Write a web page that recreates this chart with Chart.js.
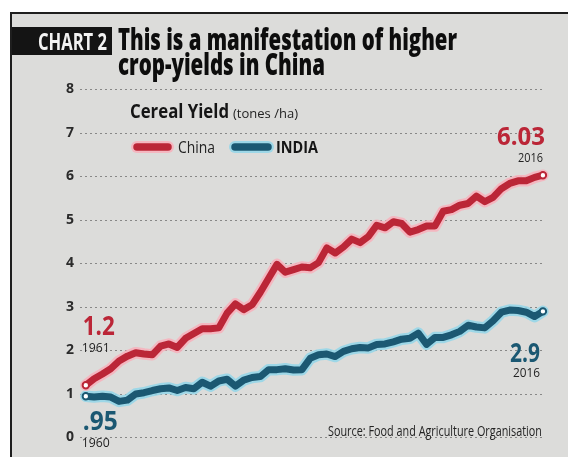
<!DOCTYPE html>
<html>
<head>
<meta charset="utf-8">
<title>Cereal Yield: China vs India</title>
<script src="https://cdn.jsdelivr.net/npm/chart.js@4/dist/chart.umd.min.js"></script>
<style>
  html, body { margin: 0; padding: 0; background: #ffffff; }
  #wrap { position: relative; width: 568px; height: 457px; overflow: hidden; }
  #frame {
    position: absolute; left: 10px; top: 12px; width: 600px; height: 500px;
    background: #dcdcda; border-left: 2px solid #1e1e1e; border-top: 2px solid #1e1e1e;
  }
  canvas { position: absolute; left: 0; top: 0; }
</style>
</head>
<body>
<div id="wrap">
  <div id="frame"></div>
  <canvas id="chart" width="568" height="457"></canvas>
</div>
<script>
// Cereal yield, tonnes per hectare
const years = [1961, 1962, 1963, 1964, 1965, 1966, 1967, 1968, 1969, 1970,
               1971, 1972, 1973, 1974, 1975, 1976, 1977, 1978, 1979, 1980,
               1981, 1982, 1983, 1984, 1985, 1986, 1987, 1988, 1989, 1990,
               1991, 1992, 1993, 1994, 1995, 1996, 1997, 1998, 1999, 2000,
               2001, 2002, 2003, 2004, 2005, 2006, 2007, 2008, 2009, 2010,
               2011, 2012, 2013, 2014, 2015, 2016];

const chinaYield = [1.20, 1.35, 1.46, 1.58, 1.76, 1.87, 1.95, 1.92, 1.90, 2.10,
                    2.15, 2.07, 2.28, 2.39, 2.50, 2.50, 2.52, 2.86, 3.07, 2.94,
                    3.05, 3.34, 3.66, 3.98, 3.80, 3.86, 3.92, 3.90, 4.02, 4.36,
                    4.24, 4.38, 4.56, 4.48, 4.62, 4.88, 4.82, 4.96, 4.92, 4.72,
                    4.78, 4.86, 4.86, 5.20, 5.24, 5.34, 5.38, 5.55, 5.42, 5.52,
                    5.72, 5.84, 5.90, 5.90, 5.98, 6.03];

const indiaYield = [0.95, 0.93, 0.95, 0.93, 0.83, 0.86, 1.00, 1.03, 1.08, 1.12,
                    1.14, 1.08, 1.15, 1.12, 1.27, 1.18, 1.30, 1.34, 1.18, 1.32,
                    1.38, 1.40, 1.56, 1.56, 1.58, 1.55, 1.56, 1.82, 1.90, 1.92,
                    1.86, 1.98, 2.04, 2.07, 2.06, 2.14, 2.15, 2.20, 2.26, 2.28,
                    2.40, 2.14, 2.30, 2.30, 2.36, 2.44, 2.58, 2.54, 2.52, 2.68,
                    2.88, 2.93, 2.92, 2.88, 2.78, 2.90];

const seriesNames = ['China', 'INDIA'];
const startYearLabels = ['1961', '1960'];
const endYearLabels = ['2016', '2016'];
const yTicks = [0, 1, 2, 3, 4, 5, 6, 7, 8];

const RED = '#bb2637';
const BLUE = '#1b5872';
const RED_HALO = 'rgba(246, 178, 188, 0.9)';
const BLUE_HALO = 'rgba(150, 214, 232, 0.9)';
const INK = '#232323';
const FONT = '"Open Sans", "DejaVu Sans", sans-serif';

const toPoints = arr => arr.map((v, i) => ({ x: years[i], y: v }));
const lastIndex = years.length - 1;
const endRadius = ctx => (ctx.dataIndex === 0 || ctx.dataIndex === lastIndex) ? 3.2 : 0;

// Draw text squeezed horizontally into a given width (condensed newspaper type)
function fitText(ctx, text, x, y, width, font, color, align) {
  ctx.save();
  ctx.font = font;
  ctx.fillStyle = color;
  ctx.textBaseline = 'alphabetic';
  ctx.textAlign = 'left';
  const m = ctx.measureText(text).width;
  const sx = width / m;
  const left = align === 'right' ? x - width : x;
  ctx.translate(left, y);
  ctx.scale(sx, 1);
  ctx.fillText(text, 0, 0);
  ctx.restore();
}

function swatch(ctx, x1, x2, y, color, halo) {
  ctx.save();
  ctx.lineCap = 'round';
  ctx.strokeStyle = halo;
  ctx.lineWidth = 12;
  ctx.beginPath(); ctx.moveTo(x1, y); ctx.lineTo(x2, y); ctx.stroke();
  ctx.strokeStyle = color;
  ctx.lineWidth = 7.5;
  ctx.beginPath(); ctx.moveTo(x1, y); ctx.lineTo(x2, y); ctx.stroke();
  ctx.restore();
}

const fmtValue = v => {
  const s = (Math.round(v * 100) / 100).toString();
  return s.startsWith('0.') ? s.slice(1) : s;
};

const decorations = {
  id: 'decorations',
  afterDatasetsDraw(chart) {
    const ctx = chart.ctx;

    // Header
    ctx.save();
    ctx.fillStyle = '#141414';
    ctx.fillRect(12, 27, 100, 28);
    ctx.restore();
    fitText(ctx, 'CHART 2', 38, 50, 69, 'bold 24px ' + FONT, '#f2f2f2');
    fitText(ctx, 'This is a manifestation of higher', 118, 50, 339, '800 30px ' + FONT, '#0d0d0d');
    fitText(ctx, 'crop-yields in China', 118, 75, 207, '800 30px ' + FONT, '#0d0d0d');

    // Subtitle and legend
    fitText(ctx, 'Cereal Yield', 130, 118, 99, 'bold 19px ' + FONT, '#151515');
    fitText(ctx, '(tones /ha)', 233, 118, 65, '12px ' + FONT, INK);
    swatch(ctx, 137, 168, 147, RED, RED_HALO);
    fitText(ctx, seriesNames[0], 178, 153, 37, '16px ' + FONT, INK);
    swatch(ctx, 235, 268, 147, BLUE, BLUE_HALO);
    fitText(ctx, seriesNames[1], 276, 153, 42, 'bold 16px ' + FONT, '#151515');

    // Value call-outs next to the first and last points
    const china = chart.getDatasetMeta(0).data;
    const india = chart.getDatasetMeta(1).data;
    const cs = china[0], ce = china[lastIndex];
    const is = india[0], ie = india[lastIndex];

    fitText(ctx, fmtValue(chinaYield[0]), cs.x - 3, cs.y - 50, 32, 'bold 27px ' + FONT, RED);
    fitText(ctx, startYearLabels[0], cs.x - 4, cs.y - 33, 28, '12px ' + FONT, INK);
    fitText(ctx, fmtValue(indiaYield[0]), is.x - 3, is.y + 34, 35, 'bold 27px ' + FONT, BLUE);
    fitText(ctx, startYearLabels[1], is.x - 4, is.y + 51, 28, '12px ' + FONT, INK);

    fitText(ctx, chinaYield[lastIndex].toFixed(2), ce.x + 2, ce.y - 30, 48, 'bold 25px ' + FONT, RED, 'right');
    fitText(ctx, endYearLabels[0], ce.x, ce.y - 13, 25, '12px ' + FONT, INK, 'right');
    fitText(ctx, fmtValue(indiaYield[lastIndex]), ie.x - 3, ie.y + 51, 30, 'bold 26px ' + FONT, BLUE, 'right');
    fitText(ctx, endYearLabels[1], ie.x - 3, ie.y + 66, 27, '12px ' + FONT, INK, 'right');

    // Source line
    fitText(ctx, 'Source: Food and Agriculture Organisation', 328, 436, 214, '14px ' + FONT, INK);
  }
};

new Chart(document.getElementById('chart'), {
  type: 'line',
  data: {
    datasets: [
      {
        label: seriesNames[0], data: toPoints(chinaYield),
        borderColor: RED, borderWidth: 7, borderJoinStyle: 'round', borderCapStyle: 'round',
        pointRadius: endRadius, pointBackgroundColor: '#ffffff', pointBorderColor: RED,
        pointBorderWidth: 2, tension: 0, clip: false
      },
      {
        label: seriesNames[1], data: toPoints(indiaYield),
        borderColor: BLUE, borderWidth: 7, borderJoinStyle: 'round', borderCapStyle: 'round',
        pointRadius: endRadius, pointBackgroundColor: '#ffffff', pointBorderColor: BLUE,
        pointBorderWidth: 2, tension: 0, clip: false
      },
      {
        label: 'china-halo', data: toPoints(chinaYield),
        borderColor: RED_HALO, borderWidth: 11.5, borderJoinStyle: 'round', borderCapStyle: 'round',
        pointRadius: 0, tension: 0, clip: false
      },
      {
        label: 'india-halo', data: toPoints(indiaYield),
        borderColor: BLUE_HALO, borderWidth: 11.5, borderJoinStyle: 'round', borderCapStyle: 'round',
        pointRadius: 0, tension: 0, clip: false
      }
    ]
  },
  options: {
    responsive: false,
    animation: false,
    events: [],
    layout: { padding: { left: 60, right: 23, top: 89.5, bottom: 19.5 } },
    plugins: { legend: { display: false }, tooltip: { enabled: false }, title: { display: false } },
    scales: {
      x: { type: 'linear', display: false, min: 1960.3, max: 2016.25 },
      y: {
        min: yTicks[0], max: yTicks[yTicks.length - 1],
        afterBuildTicks: s => { s.ticks = yTicks.map(v => ({ value: v })); },
        afterFit: s => { s.width = 20; },
        ticks: { color: '#2b2b2b', font: { family: FONT, size: 14, weight: 'bold' }, padding: 6 },
        grid: { color: 'rgba(90, 90, 90, 0.65)', lineWidth: 1, drawTicks: false },
        border: { display: false, dash: [2, 3] }
      }
    }
  },
  plugins: [decorations]
});
</script>
</body>
</html>
